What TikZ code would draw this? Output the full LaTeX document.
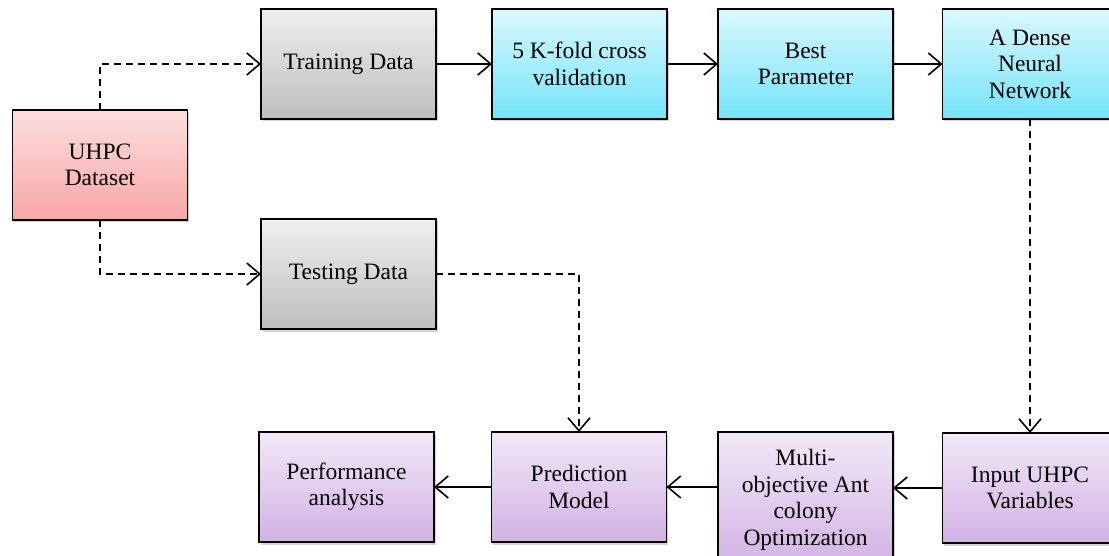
\documentclass[tikz,border=0pt]{standalone}
\usepackage{fontspec}
\setmainfont{Liberation Serif}
\usetikzlibrary{arrows.meta,shadows}
\definecolor{pinkT}{HTML}{FDDEDE}
\definecolor{pinkB}{HTML}{F8A6A6}
\definecolor{grayT}{HTML}{EFEFEF}
\definecolor{grayB}{HTML}{BEBEBE}
\definecolor{cyanT}{HTML}{DAF8FE}
\definecolor{cyanB}{HTML}{74E4F8}
\definecolor{purT}{HTML}{F2E8F7}
\definecolor{purB}{HTML}{D2B2E4}
\begin{document}
\begin{tikzpicture}[x=1pt,y=-1pt,
  box/.style={draw=black, line width=1.6pt, minimum width=175pt, minimum height=110pt,
    inner sep=2pt, outer sep=0pt, align=center, text=black,
    font=\fontsize{23.5}{26.5}\selectfont,
    drop shadow={shadow xshift=1.5pt, shadow yshift=-2.5pt, opacity=0.35}},
  pinkbox/.style={box, top color=pinkT, bottom color=pinkB},
  graybox/.style={box, top color=grayT, bottom color=grayB},
  cyanbox/.style={box, top color=cyanT, bottom color=cyanB},
  purbox/.style={box, top color=purT, bottom color=purB},
  conn/.style={line width=1.6pt, black, -{Straight Barb[length=13pt,width=22pt,line width=1.6pt]}},
  dconn/.style={conn, dash pattern=on 7pt off 5pt}
]
\useasboundingbox (0,0) rectangle (1109,556);
\clip (0,0) rectangle (1109,556);
\node[pinkbox] (uhpc) at (100,165) {UHPC\\Dataset};
\node[graybox] (train) at (348.5,64) {Training Data};
\node[cyanbox] (kfold) at (579.5,64) {5 K-fold cross\\validation};
\node[cyanbox] (best) at (805.5,64) {Best\\Parameter};
\node[cyanbox] (dnn) at (1030,64) {A Dense\\Neural\\Network};
\node[graybox] (test) at (348.5,274) {Testing Data};
\node[purbox] (perf) at (346.5,487) {Performance\\analysis};
\node[purbox] (pred) at (579,487) {Prediction\\Model};
\node[purbox, minimum height=136pt] (multi) at (805.5,500) {Multi-\\objective Ant\\colony\\Optimization};
\node[purbox] (input) at (1030,488) {Input UHPC\\Variables};

\draw[dconn] (uhpc.north) |- (train.west);
\draw[dconn] (uhpc.south) |- (test.west);
\draw[conn] (train) -- (kfold);
\draw[conn] (kfold) -- (best);
\draw[conn] (best) -- (dnn);
\draw[dconn] (dnn.south) -- (input.north);
\draw[dconn] (test.east) -| (pred.north);
\draw[conn] (input.west) -- (input.west -| multi.east);
\draw[conn] (pred.east -| multi.west) -- (pred.east);
\draw[conn] (pred) -- (perf);
\end{tikzpicture}
\end{document}
